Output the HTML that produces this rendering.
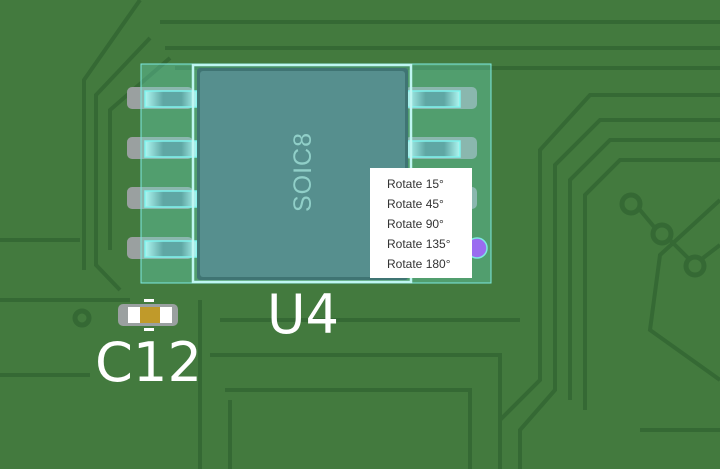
<!DOCTYPE html>
<html><head><meta charset="utf-8"><style>
html,body{margin:0;padding:0;width:720px;height:469px;overflow:hidden;background:#437a3e}
svg{position:absolute;left:0;top:0}
.menu{position:absolute;left:370px;top:168px;width:102px;height:110px;background:#fff;font-family:"Liberation Sans",sans-serif;font-size:12px;color:#333}
.menu div{position:absolute;left:17px}
</style></head><body>
<svg width="720" height="469" viewBox="0 0 720 469">
<g fill="none" stroke="#356934" stroke-width="4">
<path d="M140 0 L84 80 L84 270"/>
<path d="M160 22 L720 22"/>
<path d="M150 38 L96 95 L96 265 L120 290"/>
<path d="M165 48 L720 48"/>
<path d="M170 58 L110 110 L110 250"/>
<path d="M175 68 L720 68"/>
<path d="M0 300 L130 300"/>
<path d="M0 375 L90 375"/>
<path d="M720 95 L590 95 L540 150 L540 380 L500 420 L500 469"/>
<path d="M720 120 L600 120 L555 165 L555 390 L520 430 L520 469"/>
<path d="M720 140 L610 140 L570 180 L570 400"/>
<path d="M720 160 L620 160 L585 195 L585 410"/>
<path d="M0 240 L80 240"/>
<path d="M200 300 L200 469"/>
<path d="M220 320 L520 320"/>
<path d="M210 355 L500 355 L500 469"/>
<path d="M225 390 L470 390 L470 469"/>
<path d="M230 400 L230 469"/>
<path d="M720 430 L640 430"/>
<path d="M720 200 L660 255 L650 330 L720 380"/>
</g>
<g fill="none" stroke="#356934" stroke-width="5">
<circle cx="631" cy="204" r="9"/><circle cx="662" cy="234" r="9"/><circle cx="695" cy="266" r="9"/>
<circle cx="82" cy="318" r="7"/>
</g>
<path d="M640 210 L655 228 M670 240 L688 258 M703 258 L720 245" stroke="#356934" stroke-width="4"/>
<g fill="#9aa0a0">
<rect x="127" y="87" width="66" height="22" rx="5"/><rect x="127" y="137" width="66" height="22" rx="5"/>
<rect x="127" y="187" width="66" height="22" rx="5"/><rect x="127" y="237" width="66" height="22" rx="5"/>
<rect x="405" y="87" width="72" height="22" rx="5"/><rect x="405" y="137" width="72" height="22" rx="5"/>
<rect x="405" y="187" width="72" height="22" rx="5"/>
</g>
<rect x="141" y="64" width="350" height="219" fill="rgba(110,225,200,0.35)" stroke="#7de8e0" stroke-width="1"/>
<defs><linearGradient id="g" x1="0" x2="1"><stop offset="0" stop-color="#aef7f2"/><stop offset="0.35" stop-color="#5fa7a4"/><stop offset="0.7" stop-color="#5fa7a4"/><stop offset="1" stop-color="#aef7f2"/></linearGradient></defs>
<g fill="url(#g)" stroke="#7ff4ee" stroke-width="1.5">
<rect x="145" y="91" width="52" height="16"/><rect x="145" y="141" width="52" height="16"/>
<rect x="145" y="191" width="52" height="16"/><rect x="145" y="241" width="52" height="16"/>
<rect x="407" y="91" width="53" height="16"/><rect x="407" y="141" width="53" height="16"/>
</g>
<rect x="193" y="65" width="218" height="217" fill="none" stroke="#bff6f2" stroke-width="2.5"/>
<rect x="197" y="68" width="211" height="212" rx="3" fill="#3f7473"/>
<rect x="200" y="71" width="205" height="206" rx="3" fill="#568f8e"/>
<text transform="translate(311,172) rotate(-90)" text-anchor="middle" font-family="Liberation Sans,sans-serif" font-size="25" fill="#90cfc8" letter-spacing="1">SOIC8</text>
<circle cx="477" cy="248" r="10" fill="#9a6cf0" stroke="#7de8e0" stroke-width="1.5"/>
<rect x="118" y="304" width="60" height="22" rx="5" fill="#9aa0a0"/>
<rect x="128" y="307" width="12" height="16" fill="#fff"/><rect x="160" y="307" width="12" height="16" fill="#fff"/>
<rect x="140" y="307" width="20" height="16" fill="#c09a2a"/>
<rect x="144" y="299" width="10" height="3" fill="#fff"/><rect x="144" y="328" width="10" height="3" fill="#fff"/>
<text x="267" y="333" font-family="DejaVu Sans,sans-serif" font-size="54" fill="#fff" textLength="72" lengthAdjust="spacingAndGlyphs">U4</text>
<text x="95" y="381" font-family="DejaVu Sans,sans-serif" font-size="54" fill="#fff" textLength="107" lengthAdjust="spacingAndGlyphs">C12</text>
</svg>
<div class="menu">
<div style="top:9px">Rotate 15°</div><div style="top:29px">Rotate 45°</div><div style="top:49px">Rotate 90°</div><div style="top:69px">Rotate 135°</div><div style="top:89px">Rotate 180°</div>
</div>
</body></html>
